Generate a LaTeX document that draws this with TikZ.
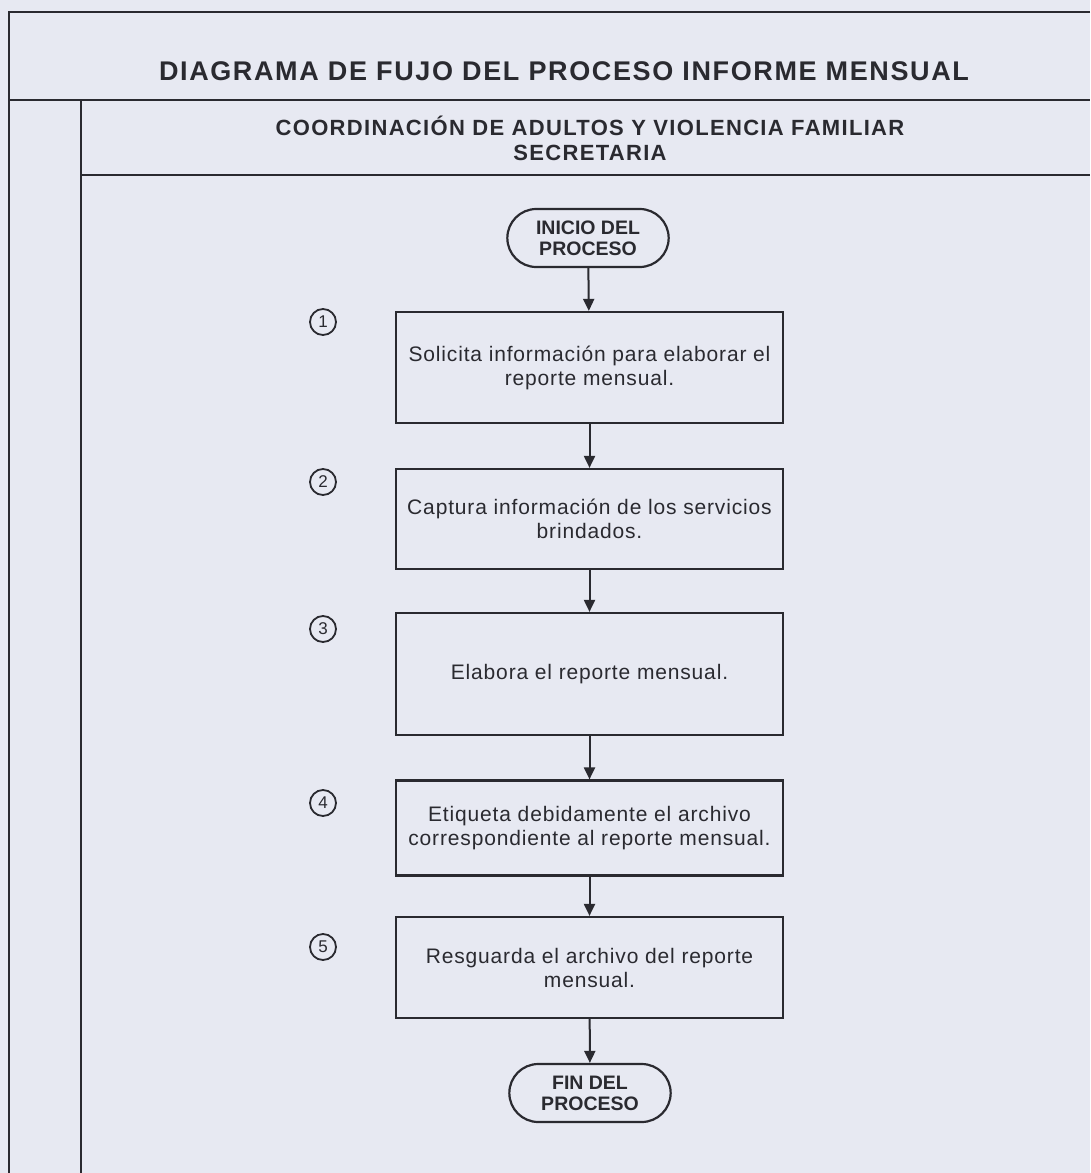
\documentclass[tikz,border=0pt]{standalone}
\usepackage{fontspec}
\setmainfont{Liberation Sans}
\usetikzlibrary{shapes.misc,arrows.meta}
\definecolor{bgc}{HTML}{E7E9F2}
\definecolor{ink}{HTML}{2A2A30}
\begin{document}
\begin{tikzpicture}[x=1pt,y=-1pt,
  frame/.style={draw=ink,line width=2.4pt},
  stepbox/.style={draw=ink,line width=2.2pt,rectangle,minimum width=387pt,align=center,text=ink,
    font=\fontsize{21}{24}\selectfont\addfontfeature{LetterSpace=4}},
  term/.style={draw=ink,line width=2.2pt,rounded rectangle,minimum width=168pt,minimum height=58pt,align=center,text=ink,
    font=\fontsize{19.5}{21}\selectfont\bfseries},
  num/.style={draw=ink,line width=1.8pt,circle,minimum size=26pt,inner sep=0pt,text=ink,font=\fontsize{17}{17}\selectfont},
  conn/.style={draw=ink,line width=2pt,-{Triangle[length=12pt,width=11pt]}},
  ttl/.style={text=ink,font=\fontsize{27}{30}\selectfont\bfseries\addfontfeature{LetterSpace=6}},
  sub/.style={text=ink,align=center,font=\fontsize{22}{25}\selectfont\bfseries\addfontfeature{LetterSpace=6}}
  ]
\useasboundingbox (0,0) rectangle (1090,1173);
\fill[bgc] (0,0) rectangle (1090,1173);
% frame lines
\coordinate (tl) at (9,12);
\coordinate (tr) at (1090,12);
\coordinate (bl) at (9,1173);
\coordinate (ml) at (9,100);
\coordinate (mr) at (1090,100);
\coordinate (il) at (81,100);
\coordinate (ib) at (81,1173);
\coordinate (sl) at (81,175);
\coordinate (sr) at (1090,175);
\draw[frame] (tr) -- (tl) -- (bl);
\draw[frame] (ml) -- (mr);
\draw[frame] (il) -- (ib);
\draw[frame] (sl) -- (sr);
% titles
\node[ttl] (title) at (564,71) {DIAGRAMA DE FUJO DEL PROCESO INFORME MENSUAL};
\node[sub] (subt) at (590,138) {COORDINACIÓN DE ADULTOS Y VIOLENCIA FAMILIAR\\SECRETARIA};
% flow
\node[term] (start) at (588,238) {INICIO DEL\\PROCESO};
\node[stepbox,minimum height=111pt] (b1) at (589.5,367.5) {Solicita información para elaborar el\\reporte mensual.};
\node[stepbox,minimum height=100pt] (b2) at (589.5,519) {Captura información de los servicios\\brindados.};
\node[stepbox,minimum height=122pt] (b3) at (589.5,674) {Elabora el reporte mensual.};
\node[stepbox,minimum height=95pt] (b4) at (589.5,828) {Etiqueta debidamente el archivo\\correspondiente al reporte mensual.};
\node[stepbox,minimum height=101pt] (b5) at (589.5,967.5) {Resguarda el archivo del reporte\\mensual.};
\node[term] (end) at (590,1093) {FIN DEL\\PROCESO};
\draw[conn] (start) -- (b1);
\draw[conn] (b1) -- (b2);
\draw[conn] (b2) -- (b3);
\draw[conn] (b3) -- (b4);
\draw[conn] (b4) -- (b5);
\draw[conn] (b5) -- (end);
% numbers
\node[num] (n1) at (323,322) {1};
\node[num] (n2) at (323,482) {2};
\node[num] (n3) at (323,629) {3};
\node[num] (n4) at (323,803) {4};
\node[num] (n5) at (323,947) {5};
\end{tikzpicture}
\end{document}
